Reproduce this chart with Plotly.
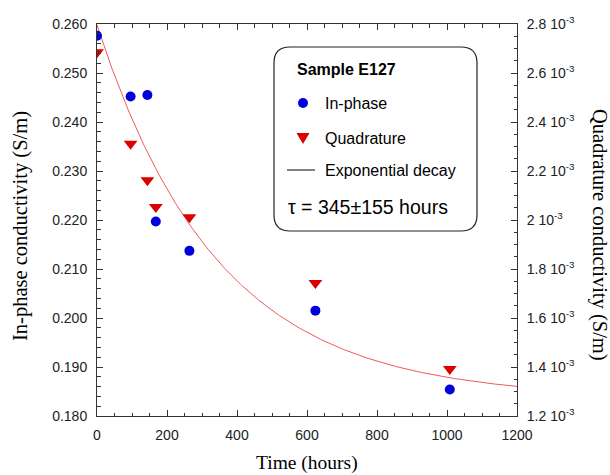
import plotly.graph_objects as go
import numpy as np

# ---- data ----
time_hours = [0, 96, 144, 168, 264, 624, 1008]
in_phase = [0.2576, 0.2452, 0.2455, 0.2197, 0.2137, 0.2015, 0.1854]
quadrature = [2.685e-3, 2.311e-3, 2.162e-3, 2.053e-3, 2.011e-3, 1.743e-3, 1.392e-3]

# exponential decay fit parameters (in-phase): A + B*exp(-t/tau)
fit_A = 0.1837
fit_B = 0.0761
fit_tau = 345.0

x_ticks = [0, 200, 400, 600, 800, 1000, 1200]
y_ticks = [0.180, 0.190, 0.200, 0.210, 0.220, 0.230, 0.240, 0.250, 0.260]
y2_ticks = [1.2e-3, 1.4e-3, 1.6e-3, 1.8e-3, 2.0e-3, 2.2e-3, 2.4e-3, 2.6e-3, 2.8e-3]
y2_ticktext = ["1.2 10<sup>-3</sup>", "1.4 10<sup>-3</sup>", "1.6 10<sup>-3</sup>",
               "1.8 10<sup>-3</sup>", "2 10<sup>-3</sup>", "2.2 10<sup>-3</sup>",
               "2.4 10<sup>-3</sup>", "2.6 10<sup>-3</sup>", "2.8 10<sup>-3</sup>"]

W, H = 610, 475
ML, MR, MT, MB = 97, 93, 24, 59
PW, PH = W - ML - MR, H - MT - MB


def px(x):
    return (x - ML) / PW


def py(y):
    return (H - MB - y) / PH


t_fit = np.linspace(0, 1200, 300)
y_fit = fit_A + fit_B * np.exp(-t_fit / fit_tau)

fig = go.Figure()
fig.add_trace(go.Scatter(x=t_fit, y=y_fit, mode="lines",
                         line=dict(color="#f05a5a", width=1), showlegend=False))
fig.add_trace(go.Scatter(x=time_hours, y=in_phase, mode="markers",
                         marker=dict(symbol="circle", size=10, color="#0000dc"),
                         showlegend=False))
fig.add_trace(go.Scatter(x=time_hours, y=quadrature, mode="markers", yaxis="y2",
                         marker=dict(symbol="triangle-down", size=12, color="#dc0000"),
                         showlegend=False))

axcol = "#333333"
tickfont = dict(family="Liberation Sans, Arial, sans-serif", size=14, color="#222222")

fig.update_layout(
    width=W, height=H,
    margin=dict(l=ML, r=MR, t=MT, b=MB),
    paper_bgcolor="white", plot_bgcolor="white",
    xaxis=dict(range=[0, 1200], tickvals=x_ticks, ticks="inside", ticklen=6,
               tickcolor=axcol, showline=True, linecolor=axcol, linewidth=1,
               mirror="ticks", showgrid=False, zeroline=False, tickfont=tickfont,
               ticklabelstandoff=6,
               minor=dict(dtick=50, ticks="inside", ticklen=3.5, tickcolor=axcol)),
    yaxis=dict(range=[0.18, 0.26], tickvals=y_ticks, tickformat=".3f",
               ticks="inside", ticklen=6, tickcolor=axcol, showline=True,
               linecolor=axcol, linewidth=1, showgrid=False, zeroline=False,
               tickfont=tickfont, ticklabelstandoff=6,
               minor=dict(dtick=0.002, ticks="inside", ticklen=3.5, tickcolor=axcol)),
    yaxis2=dict(range=[1.2e-3, 2.8e-3], overlaying="y", side="right",
                tickvals=y2_ticks, ticktext=y2_ticktext, ticks="inside", ticklen=6,
                tickcolor=axcol, showline=True, linecolor=axcol, linewidth=1,
                showgrid=False, zeroline=False, tickfont=tickfont,
                ticklabelstandoff=6,
                minor=dict(dtick=0.05e-3, tick0=0, ticks="inside", ticklen=3.5,
                           tickcolor=axcol)),
)

serif = "Liberation Serif, Times New Roman, serif"
sans = "Liberation Sans, Arial, sans-serif"

ann = []
ann.append(dict(text="Time (hours)", x=px(307), y=py(463), xref="paper", yref="paper",
                showarrow=False, font=dict(family=serif, size=19.5, color="black"),
                xanchor="center", yanchor="middle"))
ann.append(dict(text="In-phase conductivity (S/m)", x=px(20), y=py(226), xref="paper",
                yref="paper", showarrow=False, textangle=-90,
                font=dict(family=serif, size=20.5, color="black"),
                xanchor="center", yanchor="middle"))
ann.append(dict(text="Quadrature conductivity (S/m)", x=px(599), y=py(235), xref="paper",
                yref="paper", showarrow=False, textangle=90,
                font=dict(family=serif, size=20.5, color="black"),
                xanchor="center", yanchor="middle"))

# legend box content
ann.append(dict(text="<b>Sample E127</b>", x=px(295), y=py(69), xref="paper", yref="paper",
                showarrow=False, font=dict(family=sans, size=16, color="black"),
                xanchor="left", yanchor="middle"))
for label, yy in [("In-phase", 103), ("Quadrature", 138), ("Exponential decay", 170)]:
    ann.append(dict(text=label, x=px(323), y=py(yy), xref="paper", yref="paper",
                    showarrow=False, font=dict(family=sans, size=16, color="black"),
                    xanchor="left", yanchor="middle"))
ann.append(dict(text="τ = 345±155 hours", x=px(286), y=py(207), xref="paper", yref="paper",
                showarrow=False, font=dict(family=sans, size=19.5, color="black"),
                xanchor="left", yanchor="middle"))

fig.update_layout(annotations=ann)

# rounded legend frame
bx0, bx1, by0, by1, r = 274, 477, 47, 231, 16
pts = [
    ("M", bx0 + r, by0), ("L", bx1 - r, by0), ("Q", bx1, by0, bx1, by0 + r),
    ("L", bx1, by1 - r), ("Q", bx1, by1, bx1 - r, by1), ("L", bx0 + r, by1),
    ("Q", bx0, by1, bx0, by1 - r), ("L", bx0, by0 + r), ("Q", bx0, by0, bx0 + r, by0),
]
path = ""
for p in pts:
    cmd = p[0]
    coords = p[1:]
    s = " ".join(f"{px(coords[i]):.5f},{py(coords[i+1]):.5f}" for i in range(0, len(coords), 2))
    path += f"{cmd} {s} "
path += "Z"

shapes = [
    dict(type="path", path=path, xref="paper", yref="paper",
         line=dict(color="#222222", width=1.2), fillcolor="rgba(0,0,0,0)"),
    dict(type="circle", xref="paper", yref="paper", x0=px(298), x1=px(308),
         y0=py(108), y1=py(98), fillcolor="#0000dc", line=dict(width=0)),
    dict(type="path", xref="paper", yref="paper",
         path=f"M {px(296.5)},{py(133)} L {px(309.5)},{py(133)} L {px(303)},{py(144)} Z",
         fillcolor="#dc0000", line=dict(width=0)),
    dict(type="line", xref="paper", yref="paper", x0=px(287), x1=px(315),
         y0=py(170), y1=py(170), line=dict(color="black", width=1)),
]
fig.update_layout(shapes=shapes)

fig.write_html("out.html")
